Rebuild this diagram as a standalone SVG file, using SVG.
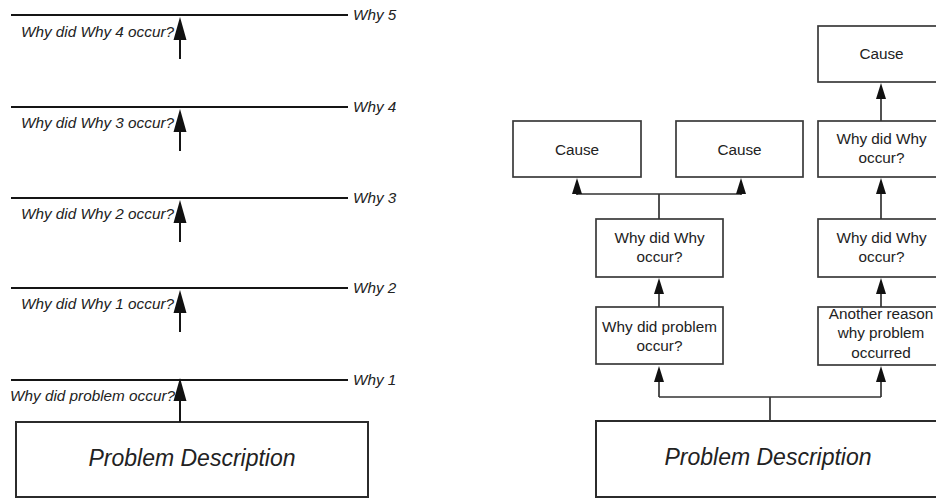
<svg xmlns="http://www.w3.org/2000/svg" width="936" height="498" viewBox="0 0 936 498">
  <style>
    .bg { fill: #ffffff; }
    .rule { stroke: #151515; stroke-width: 2; fill: none; }
    .box { fill: #ffffff; stroke: #2b2b2b; stroke-width: 2; }
    .rbox { fill: #ffffff; stroke: #3a3a3a; stroke-width: 1.7; }
    .txt { font-family: "Liberation Sans", Arial, Helvetica, sans-serif; font-size: 15.3px; fill: #222222; }
    .it { font-style: italic; }
    .mid { text-anchor: middle; }
    .end { text-anchor: end; }
    .big { font-size: 23px; }
    .stem { stroke: #151515; stroke-width: 2; fill: none; }
    .wire { stroke: #333333; stroke-width: 1.7; fill: none; }
  </style>
  <defs>
    <!-- long slim head for the ladder on the left; base sits at the line end -->
    <marker id="headLong" markerUnits="userSpaceOnUse" markerWidth="24" markerHeight="14" viewBox="0 0 24 14" refX="0" refY="7" orient="auto">
      <path d="M0,0.5 L23,7 L0,13.5 Z" fill="#111111"/>
    </marker>
    <!-- shorter head for the tree connectors -->
    <marker id="headShort" markerUnits="userSpaceOnUse" markerWidth="17" markerHeight="11" viewBox="0 0 17 11" refX="0" refY="5.5" orient="auto">
      <path d="M0,0.5 L16,5.5 L0,10.5 Z" fill="#111111"/>
    </marker>
  </defs>

  <rect class="bg" x="0" y="0" width="936" height="498"/>

  <!-- ===== Left: five-whys ladder ===== -->
  <g id="why5">
    <line class="rule" x1="11" y1="15" x2="348" y2="15"/>
    <text class="txt it" x="353" y="20">Why 5</text>
  </g>
  <g id="why4">
    <line class="rule" x1="11" y1="107" x2="348" y2="107"/>
    <text class="txt it" x="353" y="112">Why 4</text>
  </g>
  <g id="why3">
    <line class="rule" x1="11" y1="198" x2="348" y2="198"/>
    <text class="txt it" x="353" y="203">Why 3</text>
  </g>
  <g id="why2">
    <line class="rule" x1="11" y1="288" x2="348" y2="288"/>
    <text class="txt it" x="353" y="293">Why 2</text>
  </g>
  <g id="why1">
    <line class="rule" x1="11" y1="380" x2="348" y2="380"/>
    <text class="txt it" x="353" y="385">Why 1</text>
  </g>
  <g id="problem-left">
    <rect class="box" x="16" y="422" width="352" height="75"/>
    <text class="txt it big mid" x="192" y="466">Problem Description</text>
  </g>

  <g id="ladder-labels">
    <text class="txt it end" x="174" y="37">Why did Why 4 occur?</text>
    <text class="txt it end" x="174" y="128">Why did Why 3 occur?</text>
    <text class="txt it end" x="174" y="219">Why did Why 2 occur?</text>
    <text class="txt it end" x="174" y="309">Why did Why 1 occur?</text>
    <text class="txt it end" x="175" y="401">Why did problem occur?</text>
  </g>

  <g id="ladder-connectors">
    <path class="stem" d="M180,59 V40" marker-end="url(#headLong)"/>
    <path class="stem" d="M180,151 V132" marker-end="url(#headLong)"/>
    <path class="stem" d="M180,242 V223" marker-end="url(#headLong)"/>
    <path class="stem" d="M180,332 V313" marker-end="url(#headLong)"/>
    <path class="stem" d="M180,422 V401" marker-end="url(#headLong)"/>
  </g>

  <!-- ===== Right: branching why tree ===== -->
  <g id="cause-a">
    <rect class="rbox" x="513" y="121" width="128" height="56"/>
    <text class="txt mid" x="577" y="154.5">Cause</text>
  </g>
  <g id="cause-b">
    <rect class="rbox" x="676" y="121" width="127" height="56"/>
    <text class="txt mid" x="739.5" y="154.5">Cause</text>
  </g>
  <g id="cause-top">
    <rect class="rbox" x="818" y="26" width="127" height="56"/>
    <text class="txt mid" x="881.5" y="59">Cause</text>
  </g>
  <g id="why-right-upper">
    <rect class="rbox" x="818" y="121" width="127" height="56"/>
    <text class="txt mid" x="881.5" y="144">Why did Why</text>
    <text class="txt mid" x="881.5" y="163">occur?</text>
  </g>
  <g id="why-right-lower">
    <rect class="rbox" x="818" y="219" width="127" height="58"/>
    <text class="txt mid" x="881.5" y="243">Why did Why</text>
    <text class="txt mid" x="881.5" y="262">occur?</text>
  </g>
  <g id="another-reason">
    <rect class="rbox" x="818" y="307" width="127" height="58"/>
    <text class="txt mid" x="881" y="318.5">Another reason</text>
    <text class="txt mid" x="881" y="338">why problem</text>
    <text class="txt mid" x="881" y="357.5">occurred</text>
  </g>
  <g id="why-left">
    <rect class="rbox" x="596" y="219" width="127" height="58"/>
    <text class="txt mid" x="659.5" y="243">Why did Why</text>
    <text class="txt mid" x="659.5" y="262">occur?</text>
  </g>
  <g id="why-problem">
    <rect class="rbox" x="596" y="307" width="127" height="57"/>
    <text class="txt mid" x="659.5" y="331.5">Why did problem</text>
    <text class="txt mid" x="659.5" y="350.5">occur?</text>
  </g>
  <g id="problem-right">
    <rect class="box" x="596" y="421" width="344" height="76"/>
    <text class="txt it big mid" x="768" y="465">Problem Description</text>
  </g>

  <g id="tree-connectors">
    <!-- fork from the problem box -->
    <path class="wire" d="M770,421 V397 M659,397 H881"/>
    <path class="wire" d="M659,397 V382" marker-end="url(#headShort)"/>
    <path class="wire" d="M881,397 V382" marker-end="url(#headShort)"/>
    <!-- single steps upwards -->
    <path class="wire" d="M659,307 V294" marker-end="url(#headShort)"/>
    <path class="wire" d="M881,307 V294" marker-end="url(#headShort)"/>
    <path class="wire" d="M881,219 V194" marker-end="url(#headShort)"/>
    <path class="wire" d="M881,121 V99" marker-end="url(#headShort)"/>
    <!-- fork into the two causes -->
    <path class="wire" d="M659,219 V194 M577,194 H741"/>
    <path class="wire" d="M577,195 V194" marker-end="url(#headShort)"/>
    <path class="wire" d="M741,195 V194" marker-end="url(#headShort)"/>
  </g>
</svg>
